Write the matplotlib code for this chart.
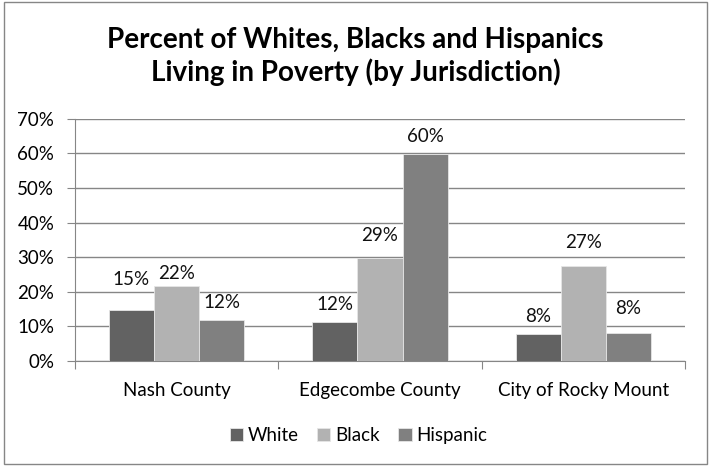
import numpy as np
import matplotlib.pyplot as plt
from matplotlib.patches import Rectangle
from matplotlib.ticker import PercentFormatter

# Data
places = ["Nash County", "Edgecombe County", "City of Rocky Mount"]
white = [14.7, 11.4, 7.7]
black = [21.7, 29.7, 27.4]
hispanic = [11.9, 59.7, 8.2]
white_lbl = ["15%", "12%", "8%"]
black_lbl = ["22%", "29%", "27%"]
hispanic_lbl = ["12%", "60%", "8%"]

plt.rcParams['font.family'] = ['Lato', 'DejaVu Sans']
fs = 13.5

fig = plt.figure(figsize=(7.11, 4.66), dpi=100)
ax = fig.add_axes([0.1055, 0.2253, 0.858, 0.52])

x = np.arange(len(places))
w = 1 / 4.5
series = [("White", white, white_lbl, "#626262"),
          ("Black", black, black_lbl, "#b2b2b2"),
          ("Hispanic", hispanic, hispanic_lbl, "#808080")]
# label gaps (points) as Excel placed them
pads = [[16, 6, 7], [3, 10, 11], [6, 7, 11]]

for i, (name, vals, lbls, col) in enumerate(series):
    bars = ax.bar(x + (i - 1) * w, vals, w, color=col, label=name,
                  edgecolor="#e6e6e6", linewidth=0.6, zorder=3)
    for j, b in enumerate(bars):
        ax.annotate(lbls[j], (b.get_x() + b.get_width() / 2, b.get_height()),
                    xytext=(0, pads[i][j]), textcoords="offset points",
                    ha="center", va="bottom", fontsize=fs, color="#111111")

ax.set_xlim(-0.5, 2.5)
ax.set_ylim(0, 70)
ax.set_yticks(range(0, 71, 10))
ax.yaxis.set_major_formatter(PercentFormatter(decimals=0))
ax.set_xticks([-0.5, 0.5, 1.5, 2.5], minor=False)
ax.set_xticklabels([])
ax.set_xticks(x, minor=True)
ax.set_xticklabels(places, minor=True, fontsize=fs)
ax.tick_params(axis="x", which="minor", length=0, pad=15)
ax.tick_params(axis="x", which="major", length=6, color="#868686")
ax.tick_params(axis="y", length=6, color="#868686", labelsize=fs, pad=9)
ax.grid(axis="y", color="#868686", linewidth=1, zorder=0)

for s in ["top", "right"]:
    ax.spines[s].set_visible(False)
for s in ["left", "bottom"]:
    ax.spines[s].set_color("#868686")

fig.text(0.5, 0.878, "Percent of Whites, Blacks and Hispanics\nLiving in Poverty (by Jurisdiction)",
         ha="center", va="center", fontsize=20, fontweight="bold", linespacing=1.25)

fig.legend(loc="center", bbox_to_anchor=(0.504, 0.066), ncol=3, frameon=False,
           fontsize=fs, handlelength=0.7, handleheight=0.7, handletextpad=0.25,
           columnspacing=1.0)

fig.patches.append(Rectangle((0.005, 0.005), 0.99, 0.99, transform=fig.transFigure,
                             fill=False, edgecolor="#868686", linewidth=1))

fig.savefig("out.png", dpi=100)
